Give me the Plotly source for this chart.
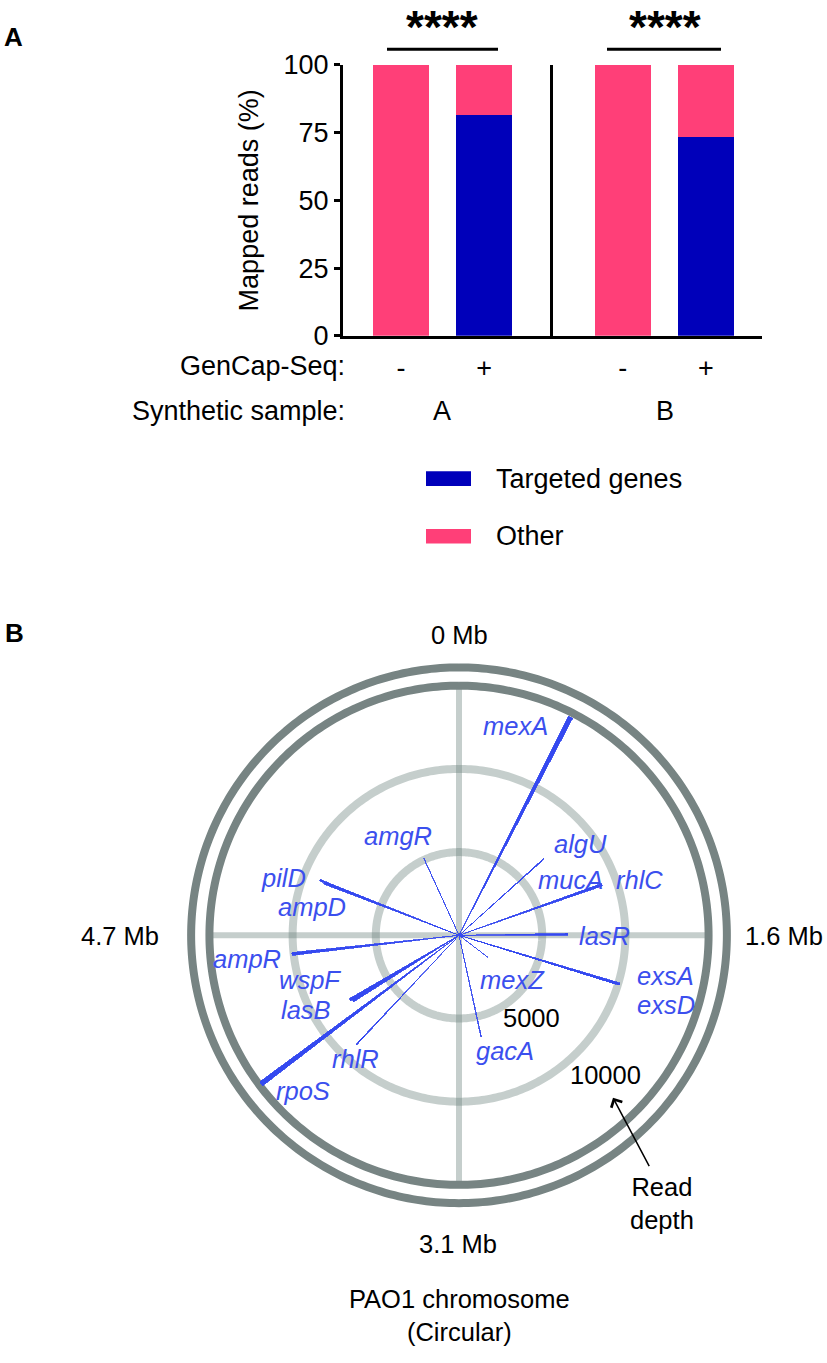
import numpy as np
import plotly.graph_objects as go

W, H = 827, 1363
FONT = "Liberation Sans, Arial, Helvetica, sans-serif"

# ---------------- Panel A data ----------------
gencap_levels = ["-", "+"]
sample_names = ["A", "B"]
targeted_sample_A = [0.0, 81.6]
other_sample_A = [100.0, 18.4]
targeted_sample_B = [0.0, 73.3]
other_sample_B = [100.0, 26.7]
mapped_ticks = [0, 25, 50, 75, 100]
significance_labels = ["****", "****"]

# ---------------- Panel B data ----------------
genome_length_mb = 6.264
gene_names = ["mexA", "algU", "mucA", "rhlC", "lasR", "exsA", "exsD", "mexZ",
              "gacA", "rhlR", "rpoS", "wspF", "lasB", "ampR", "ampD", "pilD", "amgR"]
gene_pos_mb = [0.471, 0.834, 0.836, 1.227, 1.557, 1.860, 1.862, 2.215,
               2.918, 3.884, 4.056, 4.146, 4.166, 4.587, 5.064, 5.074, 5.837]
gene_read_depth = [14730, 6880, 6700, 9110, 6530, 10100, 9800, 2170,
                   6260, 9010, 14870, 7500, 7620, 10100, 8700, 8990, 5100]
depth_grid = [5000, 10000]
depth_grid_labels = ["5000", "10000"]
chromosome_tick_labels = ["0 Mb", "1.6 Mb", "3.1 Mb", "4.7 Mb"]

# ---------------- styles ----------------
PINK = "#FF3F78"
NAVY = "#0000BA"
GENE_BLUE = "#3449F0"
LABEL_BLUE = "#3B4FEE"
DARK_RING = "#778483"
LIGHT_GRID = "rgba(110,132,128,0.40)"
gene_wedge_deg = [1.15, 0.35, 0.35, 1.0, 0.9, 0.8, 0.6, 0.3,
                  0.4, 0.4, 1.15, 1.1, 1.1, 1.0, 0.6, 0.6, 0.3]
outer_rings = [15000, 16100]
R_MAX = 16400
CX, CY, RPX = 459, 941, 279


def px(x):
    return x / W


def py(y):
    return 1 - y / H


fig = go.Figure()

# ---------------- Panel A bars ----------------
bar_w = 0.675
fig.add_trace(go.Bar(x=gencap_levels, y=targeted_sample_A, marker_color=NAVY, width=bar_w,
                     xaxis="x", yaxis="y", name="Targeted genes", marker_line_width=0))
fig.add_trace(go.Bar(x=gencap_levels, y=other_sample_A, marker_color=PINK, width=bar_w,
                     xaxis="x", yaxis="y", name="Other", marker_line_width=0))
fig.add_trace(go.Bar(x=gencap_levels, y=targeted_sample_B, marker_color=NAVY, width=bar_w,
                     xaxis="x2", yaxis="y2", name="Targeted genes", marker_line_width=0))
fig.add_trace(go.Bar(x=gencap_levels, y=other_sample_B, marker_color=PINK, width=bar_w,
                     xaxis="x2", yaxis="y2", name="Other", marker_line_width=0))

# ---------------- Panel B grid (polar) ----------------
theta_full = np.linspace(0, 360, 361)
for d in depth_grid:
    fig.add_trace(go.Scatterpolar(r=[d] * len(theta_full), theta=theta_full, mode="lines",
                                  line=dict(color=LIGHT_GRID, width=8), subplot="polar",
                                  hoverinfo="skip"))
for t in [0, 90]:
    fig.add_trace(go.Scatterpolar(r=[outer_rings[0], outer_rings[0]], theta=[t, t + 180],
                                  mode="lines", line=dict(color=LIGHT_GRID, width=6),
                                  subplot="polar", hoverinfo="skip"))
for rr in outer_rings:
    fig.add_trace(go.Scatterpolar(r=[rr] * len(theta_full), theta=theta_full, mode="lines",
                                  line=dict(color=DARK_RING, width=8), subplot="polar",
                                  hoverinfo="skip"))

# ---------------- Panel B genes (polar2, on top) ----------------
gene_theta = [p / genome_length_mb * 360 for p in gene_pos_mb]
fig.add_trace(go.Barpolar(r=gene_read_depth, theta=gene_theta, width=gene_wedge_deg,
                          marker=dict(color=GENE_BLUE, line=dict(color=GENE_BLUE, width=0.8)),
                          text=gene_names, subplot="polar2"))

polar_common = dict(
    domain=dict(x=[px(CX - RPX), px(CX + RPX)], y=[py(CY + RPX), py(CY - RPX)]),
    bgcolor="rgba(0,0,0,0)",
    angularaxis=dict(visible=False, direction="clockwise", rotation=90, thetaunit="degrees"),
    radialaxis=dict(visible=False, range=[0, R_MAX]),
)

axis_font = dict(family=FONT, size=27, color="black")

fig.update_layout(
    width=W, height=H,
    margin=dict(l=0, r=0, t=0, b=0),
    paper_bgcolor="white", plot_bgcolor="white",
    showlegend=False,
    barmode="stack",
    font=dict(family=FONT, color="black"),
    xaxis=dict(domain=[px(343), px(553)], anchor="y", type="category", range=[-0.70, 1.83],
               showline=True, linewidth=3, linecolor="black", ticks="", showgrid=False,
               tickfont=axis_font, ticklabelstandoff=6, zeroline=False),
    xaxis2=dict(domain=[px(553), px(762)], anchor="y2", type="category", range=[-0.84, 1.675],
                showline=True, linewidth=3, linecolor="black", ticks="", showgrid=False,
                tickfont=axis_font, ticklabelstandoff=6, zeroline=False),
    yaxis=dict(domain=[py(328), py(51)], anchor="x", range=[0, 100], tickvals=mapped_ticks,
               showline=True, linewidth=3, linecolor="black", ticks="outside", ticklen=6,
               tickwidth=3, tickcolor="black", showgrid=False, zeroline=False,
               tickfont=axis_font,
               title=dict(text="Mapped reads (%)", font=axis_font, standoff=18)),
    yaxis2=dict(domain=[py(328), py(51)], anchor="x2", range=[0, 100], matches="y",
                showline=True, linewidth=3, linecolor="black", ticks="",
                showticklabels=False, showgrid=False, zeroline=False),
    polar=polar_common,
    polar2=polar_common,
)

ann = []
# panel labels
ann.append(dict(x=px(2), y=py(22), text="<b>A</b>", xanchor="left", yanchor="middle",
                font=dict(family=FONT, size=26)))
ann.append(dict(x=px(3), y=py(632), text="<b>B</b>", xanchor="left", yanchor="middle",
                font=dict(family=FONT, size=26)))
# significance
for cx, lab in zip([442, 665], significance_labels):
    ann.append(dict(x=px(cx), y=py(12), text="<b>" + lab + "</b>", xanchor="center",
                    yanchor="middle", font=dict(family=FONT, size=46)))
fig.add_shape(type="line", xref="paper", yref="paper", x0=px(387), x1=px(498), y0=py(35), y1=py(35),
              line=dict(color="black", width=3))
fig.add_shape(type="line", xref="paper", yref="paper", x0=px(607), x1=px(721), y0=py(35), y1=py(35),
              line=dict(color="black", width=3))
# row labels
ann.append(dict(x=px(347), y=py(359), text="GenCap-Seq:", xanchor="right", yanchor="middle",
                font=axis_font))
ann.append(dict(x=px(347), y=py(405), text="Synthetic sample:", xanchor="right", yanchor="middle",
                font=axis_font))
for cx, lab in zip([442, 665], sample_names):
    ann.append(dict(x=px(cx), y=py(405), text=lab, xanchor="center", yanchor="middle", font=axis_font))
# legend
for yc, col, lab in [(474, NAVY, "Targeted genes"), (533, PINK, "Other")]:
    fig.add_shape(type="rect", xref="paper", yref="paper", x0=px(426), x1=px(471),
                  y0=py(yc - 7.5), y1=py(yc + 7.5), fillcolor=col, line=dict(width=0))
    ann.append(dict(x=px(494), y=py(yc), text=lab, xanchor="left", yanchor="middle", font=axis_font))

# Panel B texts
bfont = dict(family=FONT, size=25.5, color="black")
gfont = dict(family=FONT, size=25.5, color=LABEL_BLUE)
gene_label_px = {
    "mexA": (515, 727), "amgR": (398, 839), "pilD": (283, 882), "ampD": (312, 912),
    "algU": (580, 848), "mucA": (570, 884), "rhlC": (639, 884), "lasR": (604, 942),
    "exsA": (665, 983), "exsD": (666, 1012), "mexZ": (512, 987), "gacA": (505, 1059),
    "ampR": (247, 965), "wspF": (310, 987), "lasB": (306, 1017), "rhlR": (355, 1068),
    "rpoS": (303, 1100),
}
for g in gene_names:
    gx, gy = gene_label_px[g]
    ann.append(dict(x=px(gx), y=py(gy), text="<i>" + g + "</i>", xanchor="center",
                    yanchor="middle", font=gfont))
for (tx, ty), lab in zip([(459, 634), (784, 942), (458, 1257), (120, 942)], chromosome_tick_labels):
    ann.append(dict(x=px(tx), y=py(ty), text=lab, xanchor="center", yanchor="middle", font=bfont))
for (tx, ty), lab in zip([(531, 1026), (605, 1084)], depth_grid_labels):
    ann.append(dict(x=px(tx), y=py(ty), text=lab, xanchor="center", yanchor="middle", font=bfont))
ann.append(dict(x=px(662), y=py(1215), text="Read<br>depth", xanchor="center", yanchor="middle",
                font=bfont, align="center"))
ann.append(dict(x=px(613), y=py(1107), ax=37, ay=70, text="", showarrow=True, arrowhead=4,
                arrowsize=1.6, arrowwidth=1.5, arrowcolor="black"))
ann.append(dict(x=px(460), y=py(1330), text="PAO1 chromosome<br>(Circular)", xanchor="center",
                yanchor="middle", font=bfont, align="center"))

for a in ann:
    a.setdefault("xref", "paper")
    a.setdefault("yref", "paper")
    a.setdefault("showarrow", False)
fig.update_layout(annotations=ann)

fig.write_html("out.html",
               config={"displayModeBar": False},
               post_script="document.body.style.margin='0';document.body.style.padding='0';"
                           "document.documentElement.style.overflow='hidden';")
